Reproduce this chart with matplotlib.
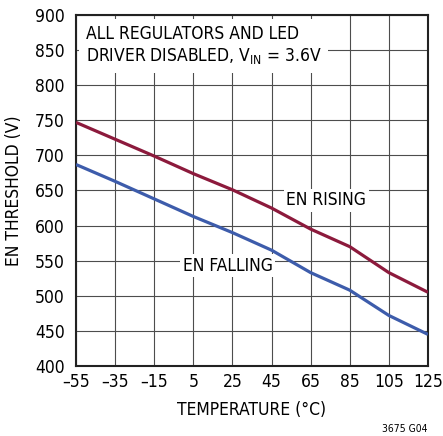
import numpy as np
import matplotlib.pyplot as plt

plt.rcParams['font.family'] = ['DejaVu Sans']
plt.rcParams['font.stretch'] = 'condensed'

# data
temp = [-55, -35, -15, 5, 25, 45, 65, 85, 105, 125]
en_rising = [747, 723, 699, 674, 651, 625, 595, 570, 533, 505]
en_falling = [687, 663, 638, 613, 590, 565, 533, 508, 472, 445]

xticks = [-55, -35, -15, 5, 25, 45, 65, 85, 105, 125]
xticklabels = ['\u201355', '\u201335', '\u201315', '5', '25', '45', '65', '85', '105', '125']
yticks = np.arange(400, 901, 50)

fig = plt.figure(figsize=(4.43, 4.36), dpi=100)
ax = fig.add_axes([0.1716, 0.1606, 0.7944, 0.805])

ax.plot(temp, en_rising, color='#8c1a3c', lw=2.3, solid_capstyle='butt', zorder=3)
ax.plot(temp, en_falling, color='#3d5cab', lw=2.3, solid_capstyle='butt', zorder=3)

ax.set_xlim(-55, 125)
ax.set_ylim(400, 900)
ax.set_xticks(xticks)
ax.set_xticklabels(xticklabels)
ax.set_yticks(yticks)
ax.grid(True, color='#4d4d4d', lw=0.8)
ax.set_axisbelow(True)
ax.tick_params(axis='y', length=0, labelsize=12.5, pad=8)
ax.tick_params(axis='x', length=0, labelsize=12.5, pad=5)
for s in ax.spines.values():
    s.set_linewidth(1.5)
    s.set_color('#222222')

ax.set_xlabel('TEMPERATURE (\u00b0C)', fontsize=12.5, labelpad=7)
ax.set_ylabel('EN THRESHOLD (V)', fontsize=12.5, labelpad=9)

box = dict(facecolor='white', edgecolor='none', pad=2)
ax.text(-50, 886, 'ALL REGULATORS AND LED\nDRIVER DISABLED, V$_{\\mathregular{IN}}$ = 3.6V',
        fontsize=12.5, va='top', ha='left', linespacing=1.2, zorder=2,
        bbox=dict(facecolor='white', edgecolor='none', pad=5))
ax.text(73, 636, 'EN RISING', fontsize=12.5, ha='center', va='center', bbox=box, zorder=2)
ax.text(22.5, 543, 'EN FALLING', fontsize=12.5, ha='center', va='center', bbox=box, zorder=2)

fig.text(0.966, 0.01, '3675 G04', fontsize=7.5, ha='right')

fig.savefig('out.png', dpi=100)
